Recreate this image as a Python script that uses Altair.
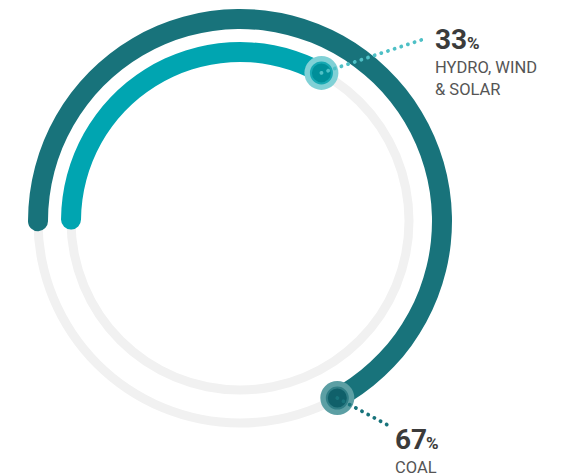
import math
import altair as alt
import pandas as pd

# ---- data ----
categories = ["COAL", "HYDRO, WIND & SOLAR"]
values = [67, 33]
label_line1 = ["COAL", "HYDRO, WIND"]
label_line2 = ["", "& SOLAR"]

df = pd.DataFrame({"cat": categories, "value": values,
                   "l1": label_line1, "l2": label_line2})

# ---- geometry / style ----
W, H = 565, 476
CX, CY = 240, 221
R_OUT, R_IN = 202, 169
BAND = 20
TRACK = 9
DARK = "#18737b"
TEAL = "#00a5b1"
GREY = "#f1f1f1"

start_ang = 3 * math.pi / 2
theta_scale = alt.Scale(domain=[0, 100], range=[start_ang, start_ang + 2 * math.pi])

base = alt.Chart(df)

def track(r):
    return alt.Chart(pd.DataFrame({"a": [0]})).mark_arc(
        color=GREY, innerRadius=r - TRACK / 2, outerRadius=r + TRACK / 2,
        theta=0, theta2=2 * math.pi
    ).encode(x=alt.value(CX), y=alt.value(CY))

def arc(cat, r, color):
    return base.transform_filter(alt.datum.cat == cat).transform_calculate(
        start="-0.8"
    ).mark_arc(
        color=color, innerRadius=r - BAND / 2, outerRadius=r + BAND / 2,
        cornerRadius=BAND / 2
    ).encode(
        x=alt.value(CX), y=alt.value(CY),
        theta=alt.Theta("start:Q", scale=theta_scale),
        theta2="value:Q",
    )

def endpoint(chart, r):
    return chart.transform_calculate(
        ang=f"{start_ang} + datum.value / 100 * 2 * PI",
    ).transform_calculate(
        px=f"{CX} + {r} * sin(datum.ang)",
        py=f"{CY} - {r} * cos(datum.ang)",
    )

def cap(cat, r, halo, dot, ring):
    c = endpoint(base.transform_filter(alt.datum.cat == cat), r)
    enc = dict(x=alt.X("px:Q", scale=None), y=alt.Y("py:Q", scale=None))
    h = c.mark_circle(size=34 * 34, color=halo, opacity=1).encode(**enc)
    d = c.mark_point(size=21 * 21, filled=True, fill=dot, stroke=ring,
                     strokeWidth=2, opacity=1, shape="circle").encode(**enc)
    return h + d

def leader(cat, r, dx, dy, color):
    c = endpoint(base.transform_filter(alt.datum.cat == cat), r).transform_calculate(
        px2=f"datum.px + {dx}", py2=f"datum.py + {dy}")
    return c.mark_rule(color=color, strokeWidth=3.8, strokeDash=[0.1, 6.9],
                       strokeCap="round").encode(
        x=alt.X("px:Q", scale=None), y=alt.Y("py:Q", scale=None),
        x2="px2:Q", y2="py2:Q")

def labels(cat, x, y_num, pct_dx):
    c = base.transform_filter(alt.datum.cat == cat)
    num = c.mark_text(align="left", baseline="alphabetic", font="Roboto",
                      fontWeight="bold", fontSize=28, color="#3b3b3b").encode(
        x=alt.value(x), y=alt.value(y_num), text="value:Q")
    pct = c.mark_text(align="left", baseline="alphabetic", font="Roboto",
                      fontWeight="bold", fontSize=17, color="#3b3b3b").encode(
        x=alt.value(x + pct_dx), y=alt.value(y_num), text=alt.value("%"))
    l1 = c.mark_text(align="left", baseline="alphabetic", font="Roboto",
                     fontSize=16.5, color="#555555").encode(
        x=alt.value(x), y=alt.value(y_num + 24), text="l1:N")
    l2 = c.mark_text(align="left", baseline="alphabetic", font="Roboto",
                     fontSize=16.5, color="#555555").encode(
        x=alt.value(x), y=alt.value(y_num + 46), text="l2:N")
    return num + pct + l1 + l2

chart = alt.layer(
    track(R_OUT), track(R_IN),
    arc("COAL", R_OUT, DARK),
    arc("HYDRO, WIND & SOLAR", R_IN, TEAL),
    cap("COAL", R_OUT, "#5c9fa4", "#10606a", "#2f7e86"),
    cap("HYDRO, WIND & SOLAR", R_IN, "#80d1d6", "#008f99", "#17a9b3"),
    leader("COAL", R_OUT, 54, 29, DARK),
    leader("HYDRO, WIND & SOLAR", R_IN, 100, -33, "#4fc0c6"),
    labels("HYDRO, WIND & SOLAR", 435, 49, 32),
    labels("COAL", 395, 449, 31),
).properties(
    width=W, height=H, padding=0, autosize=alt.AutoSizeParams(type="none")
).configure_view(stroke=None)

chart.save("out.html", embed_options={"renderer": "svg", "actions": False})
